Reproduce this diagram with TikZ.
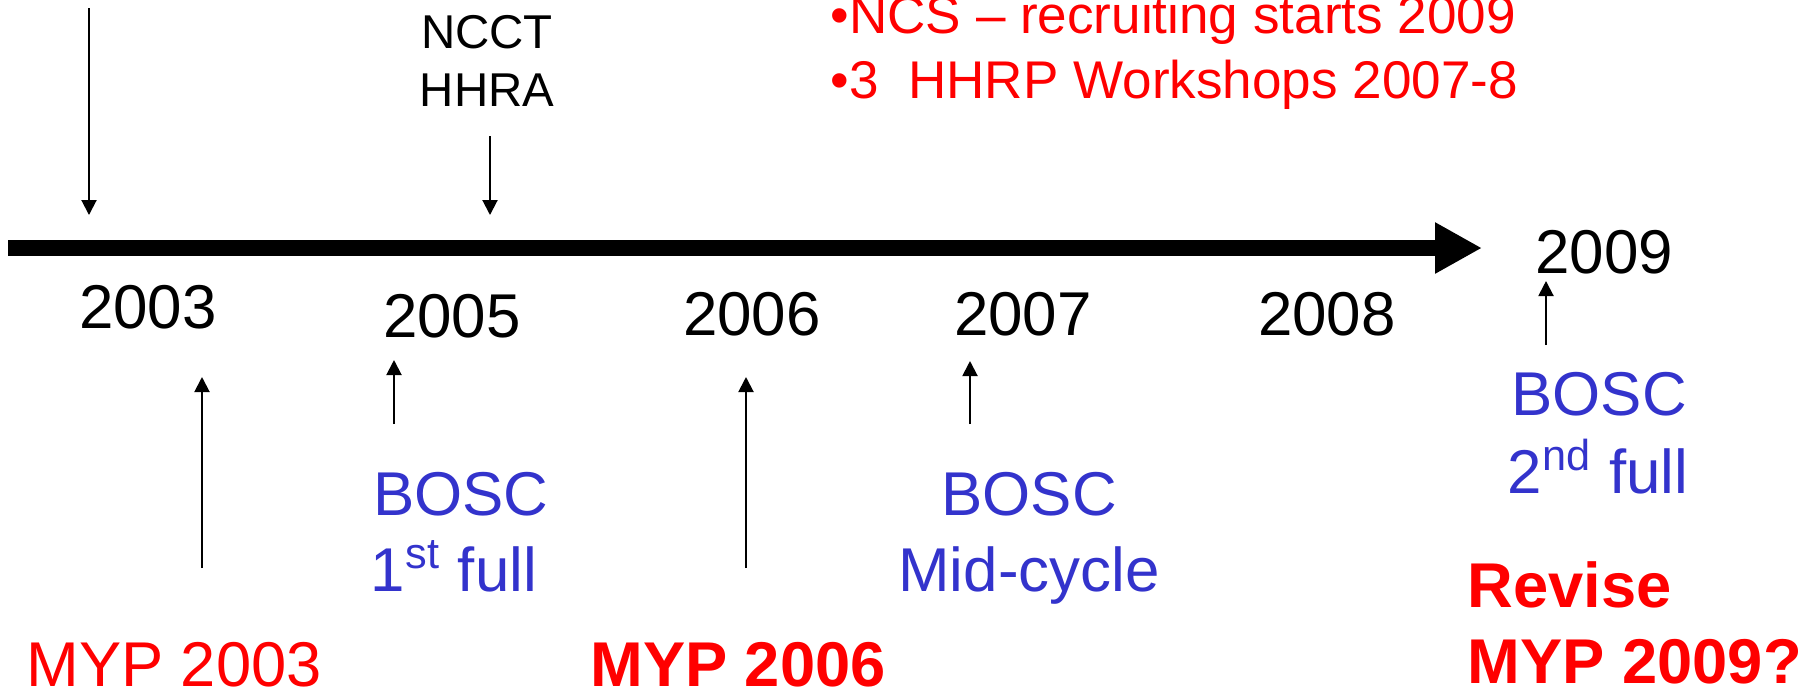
\documentclass[tikz,border=0pt]{standalone}
\usepackage{fontspec}
\setmainfont{Liberation Sans}
\usetikzlibrary{arrows.meta}
\definecolor{boscblue}{RGB}{51,51,204}
\def\bigtext{\fontsize{17.6}{21}\selectfont}
\def\myptext{\fontsize{18}{21}\selectfont}
\def\midtext{\fontsize{15.1}{18}\selectfont}
\def\smalltext{\fontsize{13.5}{16}\selectfont}
\tikzset{
	timeline/.style={line width=1.6mm,-{Triangle[length=4.7mm,width=4.8mm]}},
	tick/.style={line width=0.2mm,-{Triangle[length=1.5mm,width=1.5mm]}},
	yearlabel/.style={anchor=base,inner sep=0pt,font=\bigtext},
	bosclabel/.style={anchor=base,inner sep=0pt,text=boscblue,font=\bigtext},
	myplabel/.style={anchor=base,inner sep=0pt,text=red,font=\myptext},
	ncslabel/.style={anchor=base west,inner sep=0pt,text=red,font=\midtext},
	toplabel/.style={anchor=base,inner sep=0pt,font=\smalltext}
}

\begin{document}
\begin{tikzpicture}[x=0.1mm,y=-0.1mm]
			\useasboundingbox (0,0) rectangle (1814,688);
			% main time axis
			\coordinate (start) at (8,248);
			\coordinate (end) at (1482,248);
			\draw[timeline] (start) -- (end);
			% years
			\node[yearlabel] (y2003) at (148,328) {2003};
			\node[yearlabel] (y2005) at (452,337) {2005};
			\node[yearlabel] (y2006) at (752,335) {2006};
			\node[yearlabel] (y2007) at (1023,335) {2007};
			\node[yearlabel] (y2008) at (1327,335) {2008};
			\node[yearlabel] (y2009) at (1604,273) {2009};
			% above the axis
			\node[toplabel] (ncct) at (487,48) {NCCT};
			\node[toplabel] (hhra) at (487,106) {HHRA};
			\node[ncslabel] (ncs) at (830,33) {\textbullet NCS -- recruiting starts 2009};
			\node[ncslabel] (hhrp) at (830,98) {\textbullet 3\ \ HHRP Workshops 2007-8};
			% below the axis
			\node[bosclabel] (bosca) at (461,515) {BOSC};
			\node[bosclabel] (boscafull) at (454,591) {1\textsuperscript{st} full};
			\node[bosclabel] (boscb) at (1029,515) {BOSC};
			\node[bosclabel] (boscbmid) at (1029,591) {Mid-cycle};
			\node[bosclabel] (boscc) at (1599,415) {BOSC};
			\node[bosclabel] (bosccfull) at (1598,493) {2\textsuperscript{nd} full};
			\node[myplabel] (myp03) at (174,686) {MYP 2003};
			\node[myplabel,font=\myptext\bfseries] (myp06) at (738,686) {MYP 2006};
			\node[myplabel,anchor=base west,font=\myptext\bfseries] (revise) at (1467,607) {Revise};
			\node[myplabel,anchor=base west,font=\myptext\bfseries] (myp09) at (1467,683) {MYP 2009?};
			% arrows onto the axis
			\foreach \n/\x/\ya/\yb in {a03/89/8/215, ncct/490/136/215, myp03/202/568/377, bosc05/394/424/360, myp06/746/568/377, bosc07/970/424/361, bosc09/1546/345/281}{
				\coordinate (\n-from) at (\x,\ya);
				\coordinate (\n-to) at (\x,\yb);
				\draw[tick] (\n-from) -- (\n-to);
			}
		\end{tikzpicture}
\end{document}
